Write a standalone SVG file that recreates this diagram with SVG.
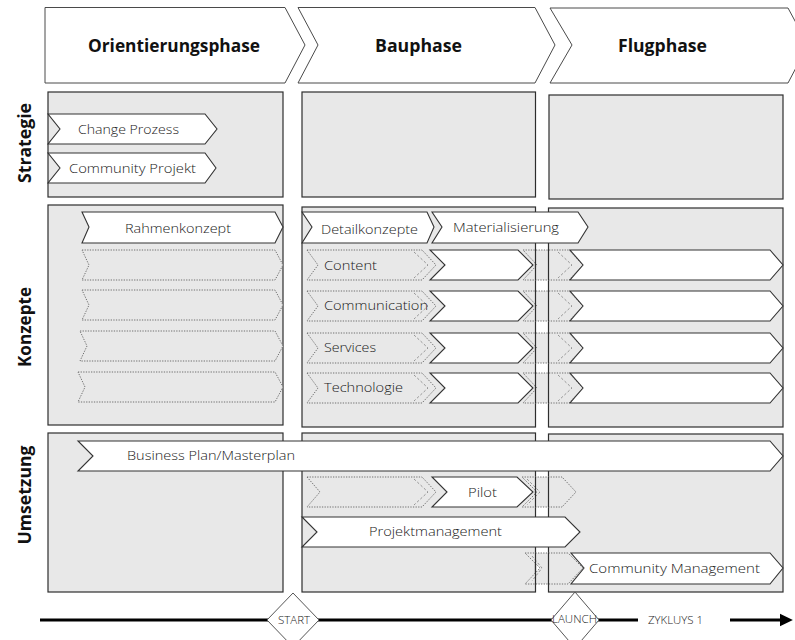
<svg xmlns="http://www.w3.org/2000/svg" width="795" height="640" viewBox="0 0 795 640">
  <style>
    .hdr { fill: #ffffff; stroke: #4a4a4a; stroke-width: 1; }
    .cell { fill: #e8e8e8; stroke: #2e2e2e; stroke-width: 1.2; }
    .bar { fill: #ffffff; stroke: #333333; stroke-width: 1.1; }
    .ghost { fill: #e8e8e8; stroke: #707070; stroke-width: 1; stroke-dasharray: 1.3 1.3; }
    .ghostline { fill: none; stroke: #8a8a8a; stroke-width: 0.9; stroke-dasharray: 2.5 2; }
    .edge { stroke: #2e2e2e; stroke-width: 1.2; }
    .htxt { font-family: "Open Sans", "Liberation Sans", sans-serif; font-weight: 700; font-size: 18px; fill: #111111; }
    .rtxt { font-family: "Open Sans", "Liberation Sans", sans-serif; font-weight: 700; font-size: 18px; fill: #111111; text-anchor: middle; }
    .ltxt { font-family: "Open Sans", "Liberation Sans", sans-serif; font-weight: 300; font-size: 13.5px; fill: #1a1a1a; }
    .stxt { font-family: "Open Sans", "Liberation Sans", sans-serif; font-weight: 300; font-size: 11px; fill: #1a1a1a; }
    .diamond { fill: #ffffff; stroke: #555555; stroke-width: 1; }
  </style>
  <defs>
    <marker id="arrowEnd" markerWidth="5" markerHeight="5" refX="1" refY="2.5" orient="auto" markerUnits="strokeWidth">
      <path d="M0,0.4 L4.3,2.5 L0,4.6 Z" fill="#000000"/>
    </marker>
  </defs>

  <!-- phase headers -->
  <g id="phase-orientierung">
    <polygon class="hdr" points="45,7.5 285,7.5 305,45 285,83 45,83"/>
    <text class="htxt" x="88" y="52" textLength="172" lengthAdjust="spacingAndGlyphs">Orientierungsphase</text>
  </g>
  <g id="phase-bau">
    <polygon class="hdr" points="298,7.5 535,7.5 555,45 535,83 298,83 318,45"/>
    <text class="htxt" x="375" y="52" textLength="87" lengthAdjust="spacingAndGlyphs">Bauphase</text>
  </g>
  <g id="phase-flug">
    <polygon class="hdr" points="550,8 788,8 808,45 788,83 550,83 572,45"/>
    <text class="htxt" x="618" y="52" textLength="89" lengthAdjust="spacingAndGlyphs">Flugphase</text>
  </g>

  <!-- row labels -->
  <g id="row-strategie">
    <text class="rtxt" transform="translate(31,143) rotate(-90)" textLength="80" lengthAdjust="spacingAndGlyphs">Strategie</text>
  </g>
  <g id="row-konzepte">
    <text class="rtxt" transform="translate(31,327) rotate(-90)" textLength="80" lengthAdjust="spacingAndGlyphs">Konzepte</text>
  </g>
  <g id="row-umsetzung">
    <text class="rtxt" transform="translate(31,495) rotate(-90)" textLength="99" lengthAdjust="spacingAndGlyphs">Umsetzung</text>
  </g>

  <!-- grid cells -->
  <g id="cell-strategie-orientierung"><rect class="cell" x="48" y="92" width="235" height="105"/></g>
  <g id="cell-strategie-bau"><rect class="cell" x="302" y="92" width="233.5" height="105"/></g>
  <g id="cell-strategie-flug"><rect class="cell" x="549" y="95" width="234" height="104"/></g>
  <g id="cell-konzepte-orientierung"><rect class="cell" x="48" y="205" width="235" height="220"/></g>
  <g id="cell-konzepte-bau"><rect class="cell" x="302" y="207" width="233.5" height="220"/></g>
  <g id="cell-konzepte-flug"><rect class="cell" x="548.5" y="208" width="234.5" height="219"/></g>
  <g id="cell-umsetzung-orientierung"><rect class="cell" x="48" y="433" width="235" height="159"/></g>
  <g id="cell-umsetzung-bau"><rect class="cell" x="302" y="433" width="233.5" height="159"/></g>
  <g id="cell-umsetzung-flug"><rect class="cell" x="548.5" y="434" width="234.5" height="158"/></g>

  <!-- Strategie bars -->
  <g id="bar-change-prozess">
    <polygon class="bar" points="48,114 205,114 217,129 205,144 48,144 60,129"/>
    <text class="ltxt" x="78" y="134" textLength="101" lengthAdjust="spacingAndGlyphs">Change Prozess</text>
  </g>
  <g id="bar-community-projekt">
    <polygon class="bar" points="48,153 205,153 216,168 205,183 48,183 60,168"/>
    <text class="ltxt" x="69" y="173" textLength="127" lengthAdjust="spacingAndGlyphs">Community Projekt</text>
  </g>

  <!-- Konzepte: orientation column -->
  <g id="bar-rahmenkonzept">
    <polygon class="bar" points="82,212 275,212 283,227 275,243 82,243 89,227"/>
    <text class="ltxt" x="125" y="233" textLength="106" lengthAdjust="spacingAndGlyphs">Rahmenkonzept</text>
  </g>
  <g id="ghost-orientierung-1"><polygon class="ghost" points="82,250 275,250 283,265 275,280 82,280 89,265"/></g>
  <g id="ghost-orientierung-2"><polygon class="ghost" points="82,290 275,290 283,305 275,320 82,320 89,305"/></g>
  <g id="ghost-orientierung-3"><polygon class="ghost" points="80,331 275,331 283,346 275,361 80,361 87,346"/></g>
  <g id="ghost-orientierung-4"><polygon class="ghost" points="78,372 275,372 283,387 275,402 78,402 85,387"/></g>

  <!-- Konzepte: build column -->
  <g id="bar-detailkonzepte">
    <polygon class="bar" points="302,212 427,212 434,227 427,243 302,243 312,227"/>
    <text class="ltxt" x="321" y="234" textLength="97" lengthAdjust="spacingAndGlyphs">Detailkonzepte</text>
  </g>
  <g id="bar-materialisierung">
    <polygon class="bar" points="432,212 578,212 588,227 578,243 432,243 442,227"/>
    <text class="ltxt" x="453" y="232" textLength="106" lengthAdjust="spacingAndGlyphs">Materialisierung</text>
  </g>

  <g id="track-content">
    <polygon class="ghost" points="307,250 422,250 436,265 422,280 307,280 318,265"/>
    <polyline class="ghostline" points="414,252 428,265 414,278"/>
    <polygon class="ghost" points="523,250 569,250 583,265 569,280 523,280 537,265"/>
    <polyline class="ghostline" points="558,252 572,265 558,278"/>
    <line class="edge" x1="535.5" y1="250" x2="535.5" y2="280"/>
    <line class="edge" x1="548.5" y1="250" x2="548.5" y2="280"/>
    <polygon class="bar" points="430,250 518,250 533,265 518,280 430,280 445,265"/>
    <polygon class="bar" points="570,250 770,250 783,265 770,280 570,280 583,265"/>
    <text class="ltxt" x="324" y="270" textLength="53" lengthAdjust="spacingAndGlyphs">Content</text>
  </g>
  <g id="track-communication">
    <polygon class="ghost" points="307,291 422,291 436,306 422,321 307,321 318,306"/>
    <polyline class="ghostline" points="414,293 428,306 414,319"/>
    <polygon class="ghost" points="523,291 569,291 583,306 569,321 523,321 537,306"/>
    <polyline class="ghostline" points="558,293 572,306 558,319"/>
    <line class="edge" x1="535.5" y1="291" x2="535.5" y2="321"/>
    <line class="edge" x1="548.5" y1="291" x2="548.5" y2="321"/>
    <polygon class="bar" points="430,291 518,291 533,306 518,321 430,321 445,306"/>
    <polygon class="bar" points="570,291 770,291 783,306 770,321 570,321 583,306"/>
    <text class="ltxt" x="324" y="310" textLength="104" lengthAdjust="spacingAndGlyphs">Communication</text>
  </g>
  <g id="track-services">
    <polygon class="ghost" points="307,333 422,333 436,348 422,363 307,363 318,348"/>
    <polyline class="ghostline" points="414,335 428,348 414,361"/>
    <polygon class="ghost" points="523,333 569,333 583,348 569,363 523,363 537,348"/>
    <polyline class="ghostline" points="558,335 572,348 558,361"/>
    <line class="edge" x1="535.5" y1="333" x2="535.5" y2="363"/>
    <line class="edge" x1="548.5" y1="333" x2="548.5" y2="363"/>
    <polygon class="bar" points="430,333 518,333 533,348 518,363 430,363 445,348"/>
    <polygon class="bar" points="570,333 770,333 783,348 770,363 570,363 583,348"/>
    <text class="ltxt" x="324" y="352" textLength="52" lengthAdjust="spacingAndGlyphs">Services</text>
  </g>
  <g id="track-technologie">
    <polygon class="ghost" points="307,373 422,373 436,388 422,403 307,403 318,388"/>
    <polyline class="ghostline" points="414,375 428,388 414,401"/>
    <polygon class="ghost" points="523,373 569,373 583,388 569,403 523,403 537,388"/>
    <polyline class="ghostline" points="558,375 572,388 558,401"/>
    <line class="edge" x1="535.5" y1="373" x2="535.5" y2="403"/>
    <line class="edge" x1="548.5" y1="373" x2="548.5" y2="403"/>
    <polygon class="bar" points="430,373 518,373 533,388 518,403 430,403 445,388"/>
    <polygon class="bar" points="570,373 770,373 783,388 770,403 570,403 583,388"/>
    <text class="ltxt" x="324" y="392" textLength="79" lengthAdjust="spacingAndGlyphs">Technologie</text>
  </g>

  <!-- Umsetzung -->
  <g id="bar-business-plan">
    <polygon class="bar" points="78,441 770,441 783,456 770,471 78,471 93,456"/>
    <text class="ltxt" x="127" y="460" textLength="168" lengthAdjust="spacingAndGlyphs">Business Plan/Masterplan</text>
  </g>
  <g id="track-pilot">
    <polygon class="ghost" points="307,477 422,477 436,492 422,507 307,507 320,492"/>
    <polyline class="ghostline" points="414,479 428,492 414,505"/>
    <polygon class="ghost" points="522,477 562,477 576,492 562,507 522,507 537,492"/>
    <polyline class="ghostline" points="527,479 540,492 527,505"/>
    <line class="edge" x1="535.5" y1="477" x2="535.5" y2="507"/>
    <line class="edge" x1="548.5" y1="477" x2="548.5" y2="507"/>
    <polygon class="bar" points="432,477 517,477 533,492 517,507 432,507 447,492"/>
    <text class="ltxt" x="468" y="497" textLength="29" lengthAdjust="spacingAndGlyphs">Pilot</text>
  </g>
  <g id="bar-projektmanagement">
    <polygon class="bar" points="302,517 565,517 580,532 565,547 302,547 317,532"/>
    <text class="ltxt" x="369" y="536" textLength="133" lengthAdjust="spacingAndGlyphs">Projektmanagement</text>
  </g>
  <g id="track-community-management">
    <polygon class="ghost" points="525,553 568,553 583,568 568,584 525,584 540,568"/>
    <polyline class="ghostline" points="532,556 542,568 532,581"/>
    <line class="edge" x1="535.5" y1="553" x2="535.5" y2="584"/>
    <line class="edge" x1="548.5" y1="553" x2="548.5" y2="584"/>
    <polygon class="bar" points="571,553 770,553 783,568 770,584 571,584 584,568"/>
    <text class="ltxt" x="589" y="573" textLength="171" lengthAdjust="spacingAndGlyphs">Community Management</text>
  </g>

  <!-- timeline -->
  <g id="connectors">
    <line x1="40" y1="620" x2="638" y2="620" stroke="#000000" stroke-width="3"/>
    <line x1="730" y1="620" x2="783" y2="620" stroke="#000000" stroke-width="3" marker-end="url(#arrowEnd)"/>
  </g>
  <g id="milestone-start">
    <polygon class="diamond" points="293,593 319,620 293,647 267,620"/>
    <text class="stxt" x="278" y="623.5" textLength="32" lengthAdjust="spacingAndGlyphs">START</text>
  </g>
  <g id="milestone-launch">
    <polygon class="diamond" points="575,592 599,620 575,648 551,620"/>
    <text class="stxt" x="552" y="623" textLength="45" lengthAdjust="spacingAndGlyphs">LAUNCH</text>
  </g>
  <g id="label-zyklus">
    <text class="stxt" x="648" y="624" font-size="10.5" textLength="55" lengthAdjust="spacingAndGlyphs">ZYKLUYS 1</text>
  </g>
</svg>
